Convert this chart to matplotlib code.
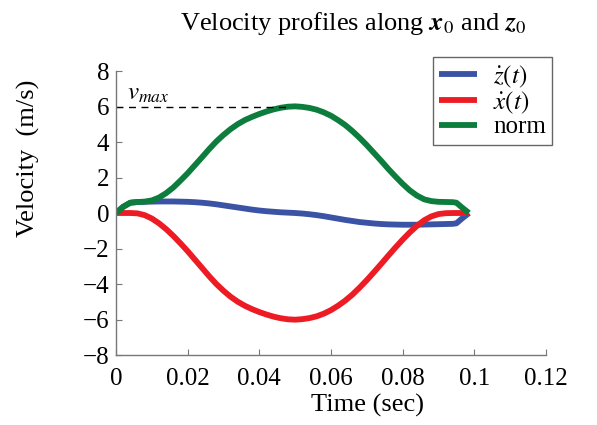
import numpy as np
import matplotlib
matplotlib.use("Agg")
import matplotlib.pyplot as plt

plt.rcParams["font.family"] = ["Liberation Serif", "DejaVu Serif"]
plt.rcParams["mathtext.fontset"] = "stix"

# time samples (sec)
t = [0.000, 0.002, 0.004, 0.006, 0.008, 0.010, 0.012, 0.014, 0.016, 0.018,
     0.020, 0.022, 0.024, 0.026, 0.028, 0.030, 0.032, 0.034, 0.036, 0.038,
     0.040, 0.042, 0.044, 0.046, 0.048, 0.050, 0.052, 0.054, 0.056, 0.058,
     0.060, 0.062, 0.064, 0.066, 0.068, 0.070, 0.072, 0.074, 0.076, 0.078,
     0.080, 0.082, 0.084, 0.086, 0.088, 0.090, 0.092, 0.094, 0.095, 0.0965,
     0.0985]

# z-dot (blue)
zdot = [0.00, 0.35, 0.58, 0.62, 0.63, 0.64, 0.65, 0.65, 0.65, 0.64,
        0.63, 0.61, 0.58, 0.54, 0.49, 0.43, 0.37, 0.31, 0.25, 0.19,
        0.14, 0.10, 0.07, 0.04, 0.02, 0.00, -0.03, -0.07, -0.12, -0.18,
        -0.25, -0.32, -0.39, -0.45, -0.51, -0.55, -0.59, -0.62, -0.64, -0.65,
        -0.66, -0.66, -0.66, -0.65, -0.64, -0.63, -0.62, -0.61, -0.58, -0.32,
        0.00]

# x-dot (red)
xdot = [0.00, 0.00, 0.00, -0.02, -0.12, -0.31, -0.58, -0.91, -1.29, -1.71,
        -2.15, -2.62, -3.09, -3.56, -4.00, -4.38, -4.72, -5.00, -5.23, -5.42,
        -5.58, -5.72, -5.84, -5.93, -5.99, -6.01, -5.98, -5.92, -5.82, -5.67,
        -5.47, -5.22, -4.93, -4.59, -4.20, -3.78, -3.33, -2.87, -2.40, -1.94,
        -1.50, -1.09, -0.72, -0.41, -0.19, -0.06, -0.01, 0.00, 0.00, 0.00,
        0.00]

# norm (green)
vnorm = [0.00, 0.35, 0.58, 0.62, 0.64, 0.71, 0.87, 1.12, 1.44, 1.83,
         2.24, 2.69, 3.14, 3.60, 4.03, 4.40, 4.73, 5.01, 5.24, 5.42,
         5.58, 5.72, 5.84, 5.93, 5.99, 6.01, 5.98, 5.92, 5.82, 5.67,
         5.48, 5.23, 4.95, 4.61, 4.23, 3.82, 3.38, 2.94, 2.48, 2.05,
         1.64, 1.27, 0.98, 0.77, 0.67, 0.63, 0.62, 0.61, 0.58, 0.32,
         0.00]

vmax = 6.0
t_vmax = 0.048

fig = plt.figure(figsize=(5.97, 4.25), dpi=100)
ax = fig.add_axes([0.1943, 0.1647, 0.7203, 0.6682])

ax.plot(t, zdot, color="#3a53a4", lw=4.2, label=r"$\dot{z}(t)$", solid_capstyle="butt")
ax.plot(t, xdot, color="#ed1c24", lw=4.2, label=r"$\dot{x}(t)$", solid_capstyle="butt")
ax.plot(t, vnorm, color="#0c7d3c", lw=4.2, label="norm", solid_capstyle="butt")

ax.plot([0, t_vmax], [vmax, vmax], color="black", lw=1, ls=(0, (5, 4)))
ax.text(0.0032, 6.1, r"$v_{max}$", fontsize=18, va="bottom", ha="left")

ax.set_xlim(0, 0.12)
ax.set_ylim(-8, 8)
ax.set_xticks([0, 0.02, 0.04, 0.06, 0.08, 0.1, 0.12])
ax.set_xticklabels(["0", "0.02", "0.04", "0.06", "0.08", "0.1", "0.12"])
ax.set_yticks(np.arange(-8, 9, 2))

for side in ["top", "right"]:
    ax.spines[side].set_visible(False)
for side in ["left", "bottom"]:
    ax.spines[side].set_color("#777777")
    ax.spines[side].set_linewidth(1)
ax.tick_params(direction="in", length=4, width=0.8, color="#777777",
               labelsize=18)
ax.tick_params(axis="x", pad=9)
ax.tick_params(axis="y", pad=5)

fig.text(0.616, 0.045, "Time (sec)", fontsize=19, ha="center", va="center")
fig.text(0.048, 0.628, "Velocity  (m/s)", fontsize=19, rotation=90,
         ha="center", va="center")
fig.text(0.592, 0.945, r"Velocity profiles along $\mathbfit{x}_{0}$ and $\mathbfit{z}_{0}$",
         fontsize=19, ha="center", va="center")

leg = ax.legend(loc="upper right", bbox_to_anchor=(552 / 597, 1 - 57 / 425),
                bbox_transform=fig.transFigure, borderaxespad=0, fancybox=False,
                fontsize=18, handlelength=1.5, handletextpad=0.65, labelspacing=0.0,
                borderpad=0.25, framealpha=1)
leg.get_frame().set_edgecolor("#666666")
leg.get_frame().set_linewidth(1)

fig.savefig("out.png", dpi=100)
